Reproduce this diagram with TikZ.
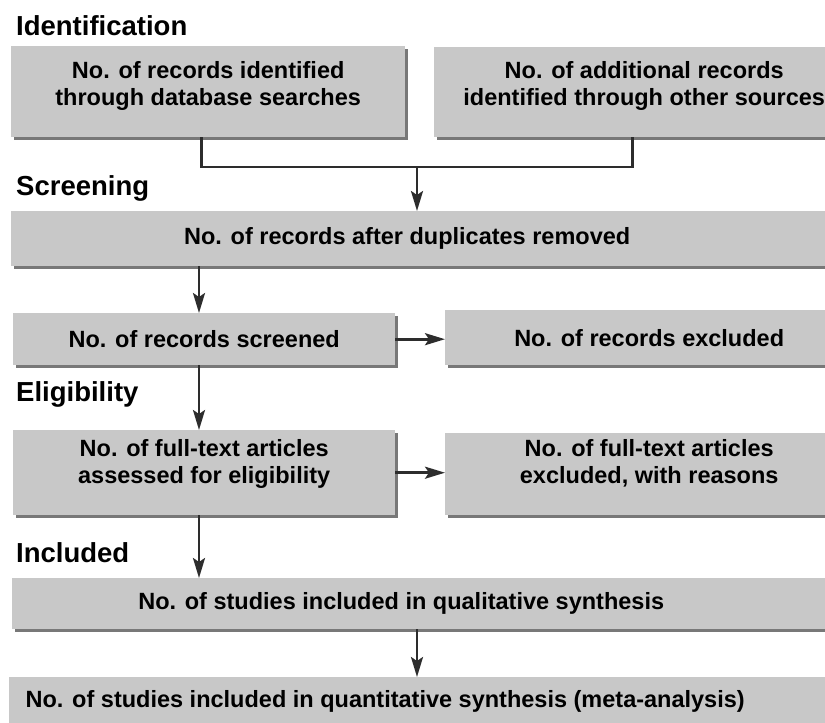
\documentclass[tikz,border=0pt]{standalone}
\usepackage{fontspec}
\setmainfont{Liberation Sans}
\usetikzlibrary{arrows.meta,shadows}
\definecolor{boxgray}{RGB}{200,200,200}
\definecolor{shadegray}{RGB}{120,120,120}
\definecolor{linegray}{RGB}{45,45,45}
\tikzset{
	box/.style = {anchor=north west, fill=boxgray, inner sep=0pt, align=center,
		font=\bfseries\fontsize{23.5}{27}\selectfont,
		general shadow={fill=shadegray, shadow xshift=3pt, shadow yshift=-3pt}},
	head/.style = {anchor=base west, inner sep=0pt, font=\bfseries\fontsize{27.5}{33}\selectfont},
	link/.style = {draw=linegray, line width=2.6pt},
	arr/.style = {link, -{Stealth[length=20pt,width=12pt,inset=4pt]}}
}
\begin{document}
\begin{tikzpicture}[x=1pt, y=-1pt]
			\useasboundingbox (0,0) rectangle (825,723);
			\clip (0,0) rectangle (825,723);
			\node[head] (ident) at (16,35) {Identification};
			\node[box, minimum width=394pt, minimum height=91pt] (idb) at (11,46) {No. of records identified\\through database searches\\[-11pt]};
			\node[box, minimum width=420pt, minimum height=90pt] (ioth) at (434,47) {No. of additional records\\identified through other sources\\[-10pt]};
			\node[head] (screen) at (16,195) {Screening};
			\node[box, minimum width=849pt, minimum height=55pt] (dupl) at (11,211) {\hspace*{-57pt}No. of records after duplicates removed};
			\node[box, minimum width=382pt, minimum height=52pt] (scr) at (13,313) {No. of records screened};
			\node[box, minimum width=408pt, minimum height=55pt] (excl) at (445,310) {No. of records excluded};
			\node[head] (elig) at (16,401) {Eligibility};
			\node[box, minimum width=382pt, minimum height=85pt] (full) at (13,430) {No. of full-text articles\\assessed for eligibility\\[-5pt]};
			\node[box, minimum width=408pt, minimum height=82pt] (fexcl) at (445,433) {No. of full-text articles\\excluded, with reasons\\[-2pt]};
			\node[head] (incl) at (16,562) {Included};
			\node[box, minimum width=848pt, minimum height=51pt] (qual) at (12,578) {\hspace*{-70pt}No. of studies included in qualitative synthesis};
			\node[box, minimum width=851pt, minimum height=48pt] (quant) at (9,677) {\hspace*{-99pt}No. of studies included in quantitative synthesis (meta-analysis)};
			\coordinate (join) at (417,167);
			\coordinate (spine) at (199,0);
			\draw[link] ([xshift=-7pt]idb.south) |- (join) -| ([xshift=-12pt]ioth.south);
			\draw[arr] (join) -- (join |- dupl.north);
			\draw[arr] (dupl.south -| spine) -- (scr.north -| spine);
			\draw[arr] (scr.east) -- (scr.east -| excl.west);
			\draw[arr] (scr.south -| spine) -- (full.north -| spine);
			\draw[arr] (full.east) -- (full.east -| fexcl.west);
			\draw[arr] (full.south -| spine) -- (qual.north -| spine);
			\draw[arr] (qual.south -| join) -- (quant.north -| join);
		\end{tikzpicture}
\end{document}
